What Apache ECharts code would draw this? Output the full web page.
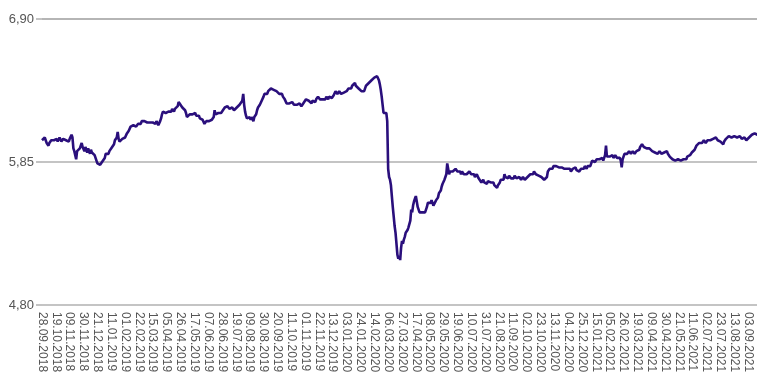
<!DOCTYPE html>
<html>
<head>
<meta charset="utf-8">
<script src="https://cdn.jsdelivr.net/npm/echarts@6/dist/echarts.min.js"></script>
<style>
  html, body { margin: 0; padding: 0; background: #ffffff; overflow: hidden; }
  #chart { width: 757px; height: 379px; }
</style>
</head>
<body>
<div id="chart"></div>
<script>
// Daily unit price, business days from 28.09.2018 onward
const startDate = [2018, 9, 28];
const yTicks = [4.80, 5.85, 6.90];

const values2018 = [
  6.01, 6.02, 6.00, 6.03, 6.01, 5.99, 6.00, 5.97, 5.99, 6.00, 6.01, 6.02, 6.00, 6.01, 6.02,
  6.01, 6.02, 6.00, 6.01, 6.03, 6.02, 6.00, 6.01, 6.02, 6.01, 6.03, 6.01, 6.02, 6.01, 6.00,
  6.02, 6.03, 6.05, 6.03, 5.95, 5.93, 5.90, 5.87, 5.93, 5.94, 5.92, 5.95, 5.97, 5.99, 5.96,
  5.95, 5.93, 5.96, 5.94, 5.92, 5.95, 5.93, 5.91, 5.94, 5.92, 5.93, 5.91, 5.90, 5.88, 5.86,
  5.84, 5.83, 5.84, 5.83, 5.84, 5.85, 5.84
];

const values2019 = [
  5.86, 5.88, 5.91, 5.90, 5.92, 5.91, 5.93, 5.94,
  5.94, 5.96, 5.95, 5.98, 6.01, 6.00, 6.03, 6.07, 6.02, 6.00, 5.99, 6.01, 6.02, 6.01, 6.03,
  6.03, 6.04, 6.06, 6.05, 6.08, 6.09, 6.11, 6.12, 6.11, 6.12, 6.13, 6.12, 6.11, 6.12, 6.13,
  6.13, 6.14, 6.13, 6.15, 6.14, 6.16, 6.15, 6.14, 6.15, 6.14, 6.13, 6.15, 6.14, 6.13, 6.14,
  6.14, 6.15, 6.14, 6.13, 6.15, 6.14, 6.12, 6.13, 6.15, 6.17, 6.20, 6.22, 6.21, 6.22, 6.21,
  6.22, 6.21, 6.22, 6.21, 6.23, 6.22, 6.24, 6.23, 6.22, 6.24, 6.23, 6.25, 6.26, 6.29, 6.28,
  6.27, 6.26, 6.25, 6.24, 6.25, 6.23, 6.21, 6.18, 6.17, 6.19, 6.20, 6.19, 6.21, 6.20, 6.19,
  6.20, 6.21, 6.19, 6.20, 6.18, 6.19, 6.17, 6.18, 6.17, 6.16, 6.15, 6.13, 6.14, 6.15, 6.14,
  6.14, 6.15, 6.14, 6.15, 6.16, 6.15, 6.18, 6.23, 6.20, 6.19, 6.20, 6.21, 6.20, 6.22, 6.21,
  6.22, 6.23, 6.24, 6.25, 6.24, 6.25, 6.26, 6.25, 6.24, 6.25, 6.24, 6.25, 6.24, 6.23, 6.24,
  6.24, 6.25, 6.24, 6.26, 6.27, 6.28, 6.27, 6.30, 6.35, 6.27, 6.22, 6.19, 6.17, 6.18, 6.16,
  6.18, 6.16, 6.18, 6.17, 6.15, 6.18, 6.17, 6.20, 6.23, 6.25, 6.24, 6.27, 6.28, 6.30, 6.31,
  6.33, 6.35, 6.34, 6.36, 6.35, 6.37, 6.38, 6.37, 6.39, 6.40, 6.39, 6.38, 6.39, 6.38, 6.37,
  6.37, 6.36, 6.35, 6.36, 6.34, 6.35, 6.33, 6.34, 6.31, 6.30, 6.28, 6.27, 6.29, 6.28, 6.29,
  6.28, 6.29, 6.28, 6.27, 6.26, 6.28, 6.27, 6.26, 6.27, 6.28, 6.27, 6.26, 6.27, 6.28, 6.29,
  6.29, 6.31, 6.30, 6.31, 6.30, 6.29, 6.30, 6.28, 6.30, 6.31, 6.30, 6.29, 6.31, 6.32, 6.33,
  6.32, 6.31, 6.32, 6.30, 6.31, 6.30, 6.32, 6.31, 6.33, 6.32, 6.31, 6.33, 6.34, 6.33, 6.32,
  6.33, 6.34, 6.35, 6.37, 6.36, 6.35, 6.36, 6.37, 6.36, 6.35, 6.36, 6.34, 6.36
];

const values2020 = [
  6.37, 6.36,
  6.37, 6.38, 6.39, 6.38, 6.40, 6.39, 6.41, 6.40, 6.42, 6.43, 6.41, 6.42, 6.40, 6.39, 6.40,
  6.39, 6.37, 6.36, 6.38, 6.37, 6.39, 6.41, 6.40, 6.42, 6.43, 6.44, 6.43, 6.45, 6.46, 6.45,
  6.47, 6.48, 6.47, 6.48, 6.47, 6.45, 6.42, 6.38, 6.33, 6.27, 6.21, 6.22, 6.20, 6.21, 6.15,
  5.80, 5.74, 5.72, 5.68, 5.60, 5.52, 5.45, 5.38, 5.33, 5.25, 5.17, 5.14, 5.16, 5.13, 5.22,
  5.27, 5.25, 5.28, 5.30, 5.33, 5.32, 5.35, 5.37, 5.36, 5.42, 5.50, 5.48, 5.53, 5.56, 5.58,
  5.60, 5.56, 5.52, 5.50, 5.48, 5.47, 5.49, 5.48, 5.47, 5.49, 5.48, 5.50, 5.52, 5.55, 5.54,
  5.56, 5.55, 5.57, 5.55, 5.53, 5.52, 5.54, 5.57, 5.56, 5.59, 5.62, 5.61, 5.64, 5.67, 5.69,
  5.70, 5.72, 5.74, 5.76, 5.84, 5.80, 5.76, 5.78, 5.77, 5.79, 5.78, 5.77, 5.79, 5.80, 5.79,
  5.78, 5.79, 5.77, 5.78, 5.76, 5.78, 5.77, 5.76, 5.77, 5.75, 5.76, 5.77, 5.76, 5.78, 5.77,
  5.76, 5.75, 5.77, 5.76, 5.74, 5.75, 5.76, 5.75, 5.73, 5.74, 5.72, 5.70, 5.71, 5.72, 5.70,
  5.71, 5.70, 5.69, 5.71, 5.70, 5.72, 5.70, 5.69, 5.71, 5.70, 5.68, 5.69, 5.67, 5.66, 5.68,
  5.67, 5.70, 5.72, 5.71, 5.73, 5.72, 5.76, 5.74, 5.75, 5.74, 5.73, 5.75, 5.74, 5.73, 5.74,
  5.74, 5.73, 5.75, 5.74, 5.73, 5.74, 5.72, 5.74, 5.73, 5.72, 5.73, 5.74, 5.73, 5.72, 5.73,
  5.73, 5.74, 5.75, 5.74, 5.76, 5.75, 5.77, 5.76, 5.78, 5.77, 5.76, 5.75, 5.76, 5.75, 5.74,
  5.75, 5.74, 5.73, 5.74, 5.72, 5.73, 5.71, 5.74, 5.78, 5.79, 5.80, 5.79, 5.81, 5.80, 5.82,
  5.81, 5.83, 5.82, 5.83, 5.82, 5.81, 5.80, 5.82, 5.81, 5.80, 5.81, 5.80, 5.81, 5.79, 5.80,
  5.80, 5.79, 5.80, 5.78, 5.79, 5.80, 5.79, 5.80, 5.81, 5.79, 5.80, 5.79, 5.78, 5.79, 5.80,
  5.80, 5.81, 5.80, 5.82, 5.81
];

const values2021 = [
  5.80, 5.82, 5.81, 5.83, 5.82, 5.84, 5.86, 5.85, 5.86, 5.85,
  5.86, 5.87, 5.86, 5.88, 5.87, 5.86, 5.87, 5.88, 5.86, 5.87, 5.90, 5.97, 5.89, 5.88, 5.90,
  5.89, 5.90, 5.89, 5.90, 5.88, 5.89, 5.90, 5.89, 5.88, 5.89, 5.87, 5.88, 5.86, 5.81, 5.87,
  5.89, 5.91, 5.90, 5.92, 5.91, 5.92, 5.93, 5.92, 5.91, 5.92, 5.93, 5.92, 5.91, 5.92, 5.93,
  5.92, 5.93, 5.94, 5.96, 5.97, 5.98, 5.97, 5.96, 5.97, 5.96, 5.95, 5.96, 5.94, 5.95, 5.94,
  5.94, 5.93, 5.94, 5.93, 5.92, 5.93, 5.92, 5.91, 5.92, 5.93, 5.92, 5.91, 5.92, 5.91, 5.92,
  5.92, 5.91, 5.93, 5.91, 5.90, 5.89, 5.88, 5.89, 5.87, 5.88, 5.87, 5.86, 5.87, 5.86, 5.87,
  5.86, 5.87, 5.86, 5.85, 5.86, 5.87, 5.86, 5.88, 5.87, 5.89, 5.88, 5.89, 5.90, 5.91, 5.92,
  5.91, 5.92, 5.94, 5.93, 5.97, 5.98, 5.97, 5.99, 5.98, 6.00, 5.99, 6.00, 6.01, 6.00, 5.99,
  6.00, 6.01, 6.00, 6.02, 6.01, 6.00, 6.01, 6.02, 6.01, 6.02, 6.03, 6.02, 6.01, 6.02, 6.01,
  6.00, 5.99, 6.00, 5.98, 6.00, 6.01, 6.02, 6.01, 6.03, 6.04, 6.03, 6.04, 6.03, 6.02, 6.03,
  6.04, 6.03, 6.04, 6.03, 6.02, 6.03, 6.04, 6.03, 6.02, 6.01, 6.02, 6.03, 6.02, 6.01, 6.02,
  6.02, 6.03, 6.02, 6.04, 6.05, 6.06, 6.05, 6.06, 6.07, 6.06, 6.05, 6.06, 6.07, 6.06, 6.05,
  6.06
];

const prices = [].concat(values2018, values2019, values2020, values2021);

// One category per business day, labelled dd.mm.yyyy
function pad(n) { return (n < 10 ? '0' : '') + n; }
const dates = [];
const d = new Date(Date.UTC(startDate[0], startDate[1] - 1, startDate[2]));
while (dates.length < prices.length) {
  const wd = d.getUTCDay();
  if (wd !== 0 && wd !== 6) {
    dates.push(pad(d.getUTCDate()) + '.' + pad(d.getUTCMonth() + 1) + '.' + d.getUTCFullYear());
  }
  d.setUTCDate(d.getUTCDate() + 1);
}

const gridColor = '#b0b0b0';
const chart = echarts.init(document.getElementById('chart'), null, { renderer: 'canvas' });
chart.setOption({
  animation: false,
  backgroundColor: '#ffffff',
  // plot area runs slightly past the right edge of the canvas
  grid: {
    left: 42, top: 19, width: 720, height: 286,
    containLabel: false,
    outerBoundsMode: 'none'
  },
  xAxis: {
    type: 'category',
    data: dates,
    boundaryGap: false,
    axisLine: { show: false },
    axisTick: { show: false },
    splitLine: { show: false },
    axisLabel: {
      interval: 14,
      rotate: -90,
      margin: 7,
      color: '#555555',
      fontFamily: 'Liberation Sans, Arial, sans-serif',
      fontSize: 12
    }
  },
  yAxis: {
    type: 'value',
    min: yTicks[0],
    max: yTicks[yTicks.length - 1],
    interval: yTicks[1] - yTicks[0],
    axisLine: { show: false },
    axisTick: { show: true, length: 6, lineStyle: { color: gridColor, width: 1.5 } },
    splitLine: { show: true, lineStyle: { color: gridColor, width: 1.5 } },
    axisLabel: {
      margin: 8,
      color: '#555555',
      fontFamily: 'Liberation Sans, Arial, sans-serif',
      fontSize: 13,
      formatter: function (v) { return v.toFixed(2).replace('.', ','); }
    }
  },
  series: [{
    type: 'line',
    data: prices,
    showSymbol: false,
    symbol: 'none',
    sampling: null,
    lineStyle: { color: '#2a0f7c', width: 2.6 },
    z: 3
  }]
});
</script>
</body>
</html>
